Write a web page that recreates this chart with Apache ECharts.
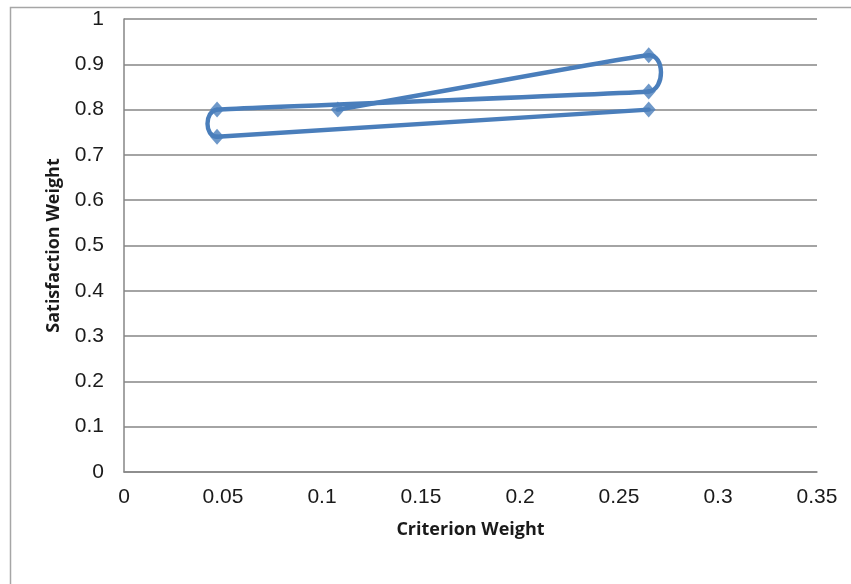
<!DOCTYPE html>
<html><head><meta charset="utf-8">
<script src="https://cdn.jsdelivr.net/npm/echarts@6/dist/echarts.min.js"></script>
<style>html,body{margin:0;padding:0;background:#fff}#c{width:851px;height:584px}</style>
</head><body><div id="c"></div>
<script>
const criterionWeight = [0.108, 0.265, 0.265, 0.047, 0.047, 0.265];
const satisfactionWeight = [0.80, 0.92, 0.84, 0.80, 0.74, 0.80];
const xTitle = 'Criterion Weight';
const yTitle = 'Satisfaction Weight';

const LINE = '#4a7ebb';
const chart = echarts.init(document.getElementById('c'), null, {renderer:'canvas'});
const pts = criterionWeight.map((x,i)=>[x, satisfactionWeight[i]]);

function dist(a,b){return Math.hypot(a[0]-b[0], a[1]-b[1]);}
function renderSmooth(params, api){
  if (params.dataIndex !== 0) return null;
  const P = pts.map(p => api.coord(p));
  const k = 0.5;
  const children = [];
  for (let i = 0; i < P.length - 1; i++) {
    const p0 = P[i-1] || P[i], p1 = P[i], p2 = P[i+1], p3 = P[i+2] || P[i+1];
    const d01 = dist(p0,p1), d12 = dist(p1,p2), d23 = dist(p2,p3);
    const m1 = d01 > 0 ? Math.min(d01,d12) : d12;
    const m2 = d23 > 0 ? Math.min(d12,d23) : d12;
    const f1 = (d01+d12) > 0 ? k*m1/(d01+d12) : 0;
    const f2 = (d12+d23) > 0 ? k*m2/(d12+d23) : 0;
    children.push({type:'bezierCurve', shape:{
      x1:p1[0], y1:p1[1], x2:p2[0], y2:p2[1],
      cpx1:p1[0]+(p2[0]-p0[0])*f1, cpy1:p1[1]+(p2[1]-p0[1])*f1,
      cpx2:p2[0]-(p3[0]-p1[0])*f2, cpy2:p2[1]-(p3[1]-p1[1])*f2},
      style:{fill:null, stroke:LINE, lineWidth:4.4, lineCap:'round', lineJoin:'round'}});
  }
  return {type:'group', children};
}

chart.setOption({
  animation:false,
  graphic:[{type:'rect',shape:{x:10.5,y:7.5,width:900,height:700},style:{fill:'none',stroke:'#a6a6a6',lineWidth:1.5},z:-1}],
  grid:{left:124,right:34,top:19,bottom:112,containLabel:false},
  xAxis:{type:'value',min:0,max:0.35,interval:0.05,
    name:xTitle,nameLocation:'middle',nameGap:49,
    nameTextStyle:{fontFamily:'Open Sans',fontWeight:'bold',fontSize:18,color:'#1a1a1a'},
    axisLine:{show:true,lineStyle:{color:'#868686',width:1.5}},
    axisTick:{show:false},
    splitLine:{show:false},
    axisLabel:{fontFamily:'Liberation Sans',fontSize:21,color:'#1a1a1a',margin:15}},
  yAxis:{type:'value',min:0,max:1,interval:0.1,
    name:yTitle,nameLocation:'middle',nameGap:61,
    nameTextStyle:{fontFamily:'Open Sans',fontWeight:'bold',fontSize:18,color:'#1a1a1a'},
    axisLine:{show:true,lineStyle:{color:'#868686',width:1.5}},
    axisTick:{show:false},
    splitLine:{show:true,lineStyle:{color:'#868686',width:1.5}},
    axisLabel:{fontFamily:'Liberation Sans',fontSize:21,color:'#1a1a1a',margin:20}},
  series:[
    {type:'custom', renderItem:renderSmooth, data:pts, encode:{x:0,y:1}, z:2, silent:true},
    {type:'scatter', data:pts, symbol:'diamond', symbolSize:[14,16], itemStyle:{color:LINE}, z:3}
  ]
});
</script></body></html>
